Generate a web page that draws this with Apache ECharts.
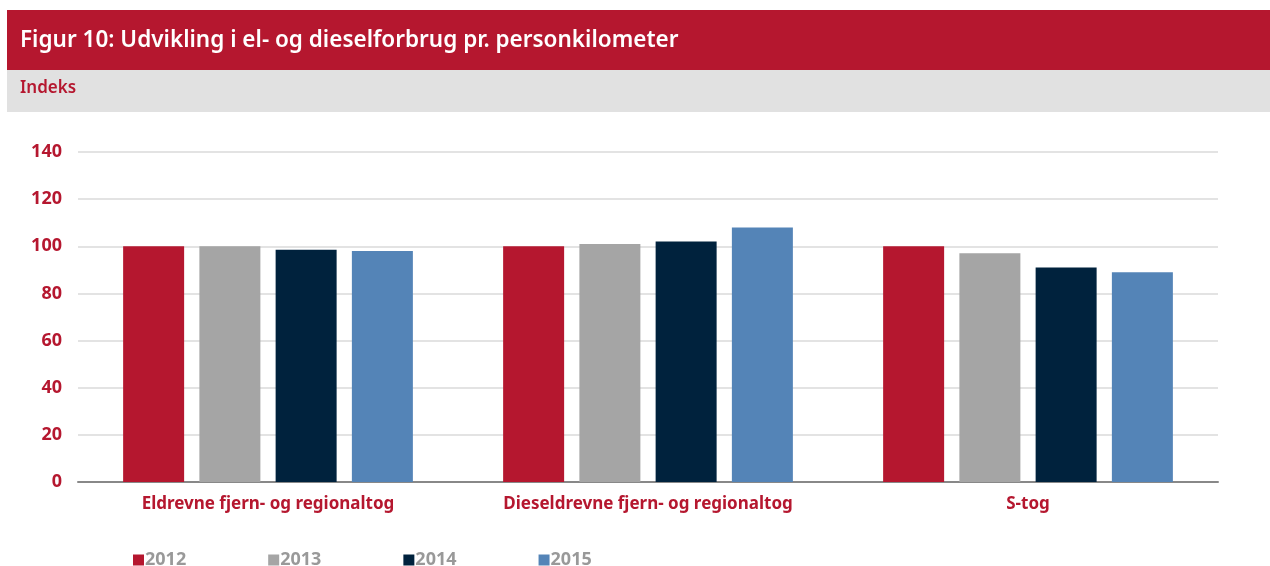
<!DOCTYPE html>
<html>
<head>
<meta charset="utf-8">
<script src="https://cdn.jsdelivr.net/npm/echarts@6/dist/echarts.min.js"></script>
<style>
  html, body { margin: 0; padding: 0; background: #fff; }
  #main { width: 1270px; height: 566px; }
</style>
</head>
<body>
<div id="main"></div>
<script>
var categories = ['Eldrevne fjern- og regionaltog', 'Dieseldrevne fjern- og regionaltog', 'S-tog'];
var years = ['2012', '2013', '2014', '2015'];
var v2012 = [100, 100, 100];
var v2013 = [100, 101, 97];
var v2014 = [98.5, 102, 91];
var v2015 = [98, 108, 89];
var colors = ['#B5172F', '#A5A5A5', '#00223D', '#5484B7'];

(function () {
    var chartDom = document.getElementById('main');
    var myChart = echarts.init(chartDom);
    var option;
    var values = [v2012, v2013, v2014, v2015];
    var font = '"Noto Sans", sans-serif';

    option = {
        animation: false,
        graphic: [
            { type: 'rect', shape: { x: 7, y: 10, width: 1263, height: 60 }, style: { fill: '#B5172F' } },
            { type: 'rect', shape: { x: 7, y: 70, width: 1263, height: 42 }, style: { fill: '#E1E1E1' } },
            {
                type: 'text', left: 20, top: 29,
                style: { text: 'Figur 10: Udvikling i el- og dieselforbrug pr. personkilometer', fill: '#fff', font: '600 22.5px ' + font }
            },
            {
                type: 'text', left: 20, top: 80,
                style: { text: 'Indeks', fill: '#B5172F', font: '600 17px ' + font }
            }
        ],
        legend: {
            left: 128,
            top: 546,
            itemGap: 82,
            itemWidth: 11,
            itemHeight: 11,
            icon: 'rect',
            textStyle: { color: '#999', fontSize: 18, fontWeight: 'bold', fontFamily: font, padding: [0, 0, 0, -4] },
            data: years
        },
        grid: {
            left: 78,
            right: 52,
            top: 152,
            bottom: 84
        },
        xAxis: {
            type: 'category',
            data: categories,
            axisTick: { show: false },
            axisLine: { lineStyle: { color: '#888', width: 2 } },
            axisLabel: { color: '#B5172F', fontSize: 17, fontWeight: 'bold', fontFamily: font, margin: 14 }
        },
        yAxis: {
            type: 'value',
            min: 0,
            max: 140,
            interval: 20,
            axisLabel: { color: '#B5172F', fontSize: 18, fontWeight: 'bold', fontFamily: font, margin: 16 },
            splitLine: { lineStyle: { color: '#E3E3E3', width: 2 } }
        },
        series: years.map(function (y, i) {
            return {
                name: y,
                type: 'bar',
                data: values[i],
                barWidth: 61,
                barGap: '25%',
                itemStyle: { color: colors[i] }
            };
        })
    };

    option && myChart.setOption(option);
})();
</script>
</body>
</html>
